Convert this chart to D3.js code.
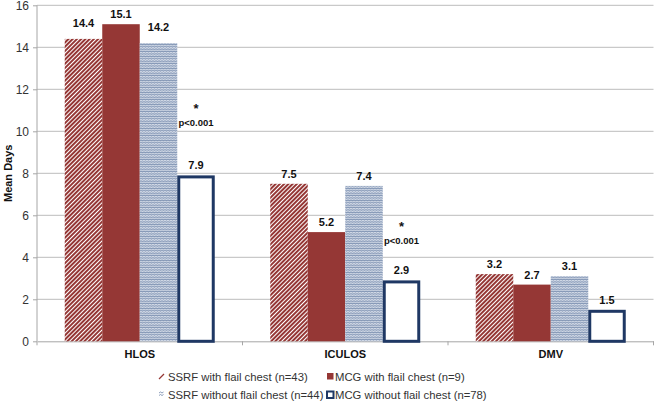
<!DOCTYPE html>
<html><head><meta charset="utf-8">
<script src="https://cdn.jsdelivr.net/npm/d3@7"></script>
<style>body{margin:0;background:#fff}svg{display:block;font-family:"Liberation Sans",Arial,sans-serif}</style>
</head><body><svg id="c" width="655" height="402"></svg>
<script>
const categories = ["HLOS", "ICULOS", "DMV"];
const seriesNames = ["SSRF with flail chest (n=43)", "MCG with flail chest (n=9)", "SSRF without flail chest (n=44)", "MCG without flail chest (n=78)"];
const ssrfFlail = [14.4, 7.5, 3.2];
const mcgFlail = [15.1, 5.2, 2.7];
const ssrfNoFlail = [14.2, 7.4, 3.1];
const mcgNoFlail = [7.9, 2.9, 1.5];
const yTicks = [0, 2, 4, 6, 8, 10, 12, 14, 16];
const annotCats = ["HLOS", "ICULOS"];
const annotVals = [10.25, 4.63];
const annotText = ["p<0.001", "p<0.001"];

(function(){
const seriesValues = [ssrfFlail, mcgFlail, ssrfNoFlail, mcgNoFlail];
const svg = d3.select("#c");
const defs = svg.append("defs");
const maroon = "#953735", navy = "#1f3864";

const pS = defs.append("pattern").attr("id","stripe").attr("patternUnits","userSpaceOnUse")
  .attr("width",3).attr("height",3).attr("patternTransform","rotate(45)");
pS.append("rect").attr("width",3).attr("height",3).attr("fill","#fff");
pS.append("rect").attr("width",2).attr("height",3).attr("fill",maroon);

const pW = defs.append("pattern").attr("id","wave").attr("patternUnits","userSpaceOnUse")
  .attr("width",3).attr("height",2.4);
pW.append("rect").attr("width",3).attr("height",2.4).attr("fill","#eaeef5");
pW.append("path").attr("d","M0,1.7 L0.75,0.7 L1.5,1.7 L2.25,0.7 L3,1.7").attr("fill","none").attr("stroke","#7f93b3").attr("stroke-width",0.85);

const pl = 37, pr = 653.5, pt = 5.3, pb = 341.3;
const y = d3.scaleLinear().domain([0,16]).range([pb, pt]);
const x0 = d3.scaleBand().domain(categories).range([pl, pr]).paddingInner(0).paddingOuter(0);
const x1 = d3.scaleBand().domain(d3.range(4)).range([0, x0.bandwidth()]).paddingInner(0).paddingOuter(0.74);

svg.append("g").selectAll("line").data(yTicks.filter(d=>d>0)).join("line")
  .attr("x1",pl).attr("x2",pr).attr("y1",d=>y(d)).attr("y2",d=>y(d))
  .attr("stroke","#bcbcbc").attr("stroke-width",1);

const ya = svg.append("g").attr("transform",`translate(${pl},0)`)
  .call(d3.axisLeft(y).tickValues(yTicks).tickSize(4).tickPadding(4));
ya.select(".domain").attr("stroke","#a6a6a6").attr("d",`M0,${pb}V${pt}`);
ya.selectAll(".tick line").attr("stroke","#a6a6a6");
ya.selectAll(".tick text").attr("font-size",12).attr("fill","#333").attr("font-family","Liberation Sans, Arial, sans-serif");

const xa = svg.append("g").attr("transform",`translate(0,${pb})`)
  .call(d3.axisBottom(x0).tickSize(0).tickPadding(9));
xa.select(".domain").attr("stroke","#a6a6a6");
xa.selectAll(".tick text").attr("font-size",11).attr("font-weight","bold").attr("fill","#111").attr("font-family","Liberation Sans, Arial, sans-serif");
svg.append("g").selectAll("line").data([...categories.map(c=>x0(c)), pr]).join("line")
  .attr("x1",d=>d).attr("x2",d=>d).attr("y1",pb).attr("y2",pb+4).attr("stroke","#a6a6a6");

const fills = ["url(#stripe)", maroon, "url(#wave)", "#fff"];
const flat = [];
categories.forEach((c,ci)=>seriesValues.forEach((arr,si)=>flat.push({c,ci,si,v:arr[ci]})));
svg.append("g").selectAll("rect").data(flat).join("rect")
  .attr("x",d=>x0(d.c)+x1(d.si) + (d.si===3?1.5:0))
  .attr("width",d=>x1.bandwidth() - (d.si===3?3:0))
  .attr("y",d=>y(d.v) + (d.si===3?1.5:0))
  .attr("height",d=>pb - y(d.v) - (d.si===3?1.5:0))
  .attr("fill",d=>fills[d.si])
  .attr("stroke",d=>d.si===3?navy:"none").attr("stroke-width",3);

svg.append("g").selectAll("text").data(flat).join("text")
  .attr("x",d=>x0(d.c)+x1(d.si)+x1.bandwidth()/2)
  .attr("y",d=>y(d.v) - 6 - ((d.ci===0 && (d.si===0||d.si===2)) ? 6 : 0))
  .attr("text-anchor","middle").attr("font-size",11).attr("font-weight","bold").attr("fill","#111")
  .text(d=>d.v.toFixed(1));

annotCats.forEach((c,i)=>{
  const cx = x0(c)+x1(3)+x1.bandwidth()/2;
  svg.append("text").attr("x",cx).attr("y",y(annotVals[i])).attr("text-anchor","middle")
    .attr("font-size",9.5).attr("font-weight","bold").attr("fill","#111").text(annotText[i]);
  svg.append("text").attr("x",cx).attr("y",y(annotVals[i])-13).attr("text-anchor","middle")
    .attr("font-size",13).attr("font-weight","bold").attr("fill","#111").text("*");
});

svg.append("text").attr("transform",`translate(12,${(pt+pb)/2}) rotate(-90)`)
  .attr("text-anchor","middle").attr("font-size",11).attr("font-weight","bold").attr("fill","#111").text("Mean Days");

const legPos = [[168,380.5],[335,380.5],[168,398.5],[335,398.5]];
const lg = svg.append("g");
seriesNames.forEach((n,i)=>{
  const [lx,ly] = legPos[i];
  lg.append("text").attr("x",lx).attr("y",ly).attr("font-size",11.3).attr("fill","#333").text(n);
});
lg.append("line").attr("x1",159).attr("y1",379).attr("x2",164).attr("y2",374).attr("stroke",maroon).attr("stroke-width",1.3);
lg.append("path").attr("d","M159,393 L160.5,392 L162,393 L163.5,392 M159,395.5 L160.5,394.5 L162,395.5 L163.5,394.5")
  .attr("fill","none").attr("stroke","#7f92b2").attr("stroke-width",0.9);
lg.append("rect").attr("x",327).attr("y",373).attr("width",6.5).attr("height",6.5).attr("fill",maroon);
lg.append("rect").attr("x",327).attr("y",391.5).attr("width",6.5).attr("height",6.5).attr("fill","#fff").attr("stroke",navy).attr("stroke-width",2);
})();
</script></body></html>
